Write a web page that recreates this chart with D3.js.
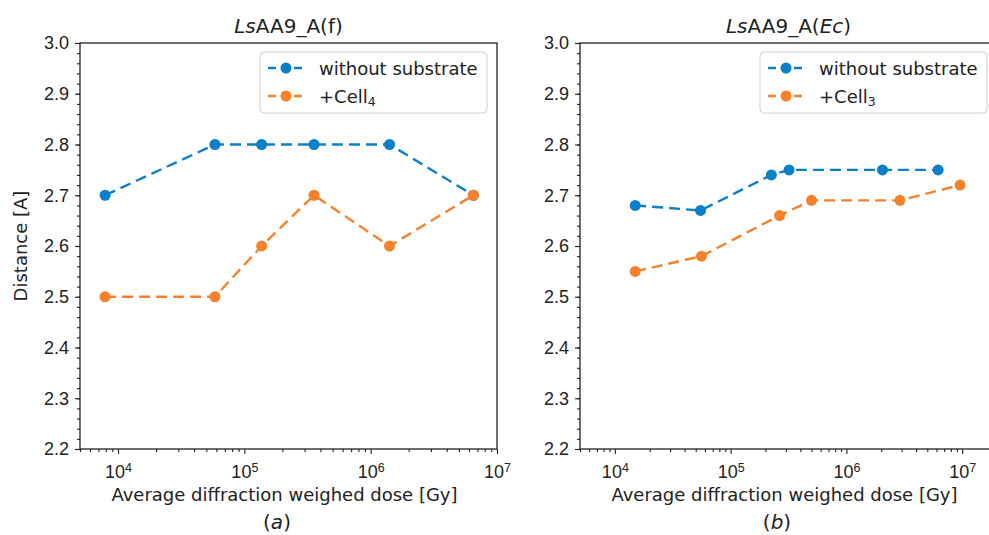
<!DOCTYPE html>
<html>
<head>
<meta charset="utf-8">
<script src="https://cdn.jsdelivr.net/npm/d3@7"></script>
<style>
  body { margin: 0; background: #fff; }
  svg { display: block; font-family: "DejaVu Sans", sans-serif; }
</style>
</head>
<body>
<div id="container"></div>
<script>
// data
const seriesNames = ["without substrate", "+Cell"]
const cellSubs = ["4", "3"]

const leftDose = [7.9e3, 5.85e4, 1.37e5, 3.56e5, 1.41e6, 6.5e6]
const leftBlue = [2.7, 2.8, 2.8, 2.8, 2.8, 2.7]
const leftOrange = [2.5, 2.5, 2.6, 2.7, 2.6, 2.7]

const rightDoseBlue = [1.5e4, 5.5e4, 2.25e5, 3.2e5, 2.05e6, 6.2e6]
const rightBlue = [2.68, 2.67, 2.74, 2.75, 2.75, 2.75]
const rightDoseOrange = [1.5e4, 5.6e4, 2.65e5, 5.0e5, 2.9e6, 9.6e6]
const rightOrange = [2.55, 2.58, 2.66, 2.69, 2.69, 2.72]

const yTicks = [2.2, 2.3, 2.4, 2.5, 2.6, 2.7, 2.8, 2.9, 3.0]
const xTickExps = [4, 5, 6, 7]

const blue = "#0b7fc7"
const orange = "#f5822a"

const width = 989, height = 535

let svg = d3.select("#container").append("svg")
    .attr("width", width)
    .attr("height", height)

const panels = [
  { x0: 80, xDomain: [5e3, 1e7], title: [["Ls", true], ["AA9_A(f)", false]], caption: "a", capX: 277, ylabel: true,
    series: [{ x: leftDose, y: leftBlue, c: blue }, { x: leftDose, y: leftOrange, c: orange }], sub: cellSubs[0] },
  { x0: 580, xDomain: [5e3, 2e7], title: [["Ls", true], ["AA9_A(", false], ["Ec", true], [")", false]], caption: "b", capX: 777, ylabel: false,
    series: [{ x: rightDoseBlue, y: rightBlue, c: blue }, { x: rightDoseOrange, y: rightOrange, c: orange }], sub: cellSubs[1] }
]

const pw = 417, plotTop = 43, plotBottom = 449

panels.forEach(p => {
  let x = d3.scaleLog().domain(p.xDomain).range([p.x0, p.x0 + pw])
  let y = d3.scaleLinear().domain([2.2, 3.0]).range([plotBottom, plotTop])
  let g = svg.append("g")

  // minor x ticks
  let minors = []
  for (let e = 3; e <= 7; e++) for (let m = 2; m <= 9; m++) {
    const v = m * Math.pow(10, e)
    if (v >= p.xDomain[0] && v <= p.xDomain[1]) minors.push(v)
  }
  g.append("g").attr("transform", `translate(0,${plotBottom})`)
    .call(d3.axisBottom(x).tickValues(minors).tickSize(3).tickFormat(""))
  let xa = g.append("g").attr("transform", `translate(0,${plotBottom})`)
    .call(d3.axisBottom(x).tickValues(xTickExps.map(e => Math.pow(10, e)).filter(v => v <= p.xDomain[1]))
      .tickSize(5).tickPadding(6).tickFormat(""))
  xa.selectAll(".tick text").each(function(d) {
    let t = d3.select(this).attr("font-size", 18).attr("fill", "#222").attr("dy", "1em")
    t.append("tspan").text("10")
    t.append("tspan").attr("font-size", 12.5).attr("dy", "-0.5em").text(Math.round(Math.log10(d)))
  })

  // y axis
  g.append("g").attr("transform", `translate(${p.x0},0)`)
    .call(d3.axisLeft(y).tickValues(d3.range(2.2, 3.001, 0.02)).tickSize(3).tickFormat(""))
  g.append("g").attr("transform", `translate(${p.x0},0)`)
    .call(d3.axisLeft(y).tickValues(yTicks).tickSize(5).tickPadding(6).tickFormat(d3.format(".1f")))
    .selectAll("text").attr("font-size", 18).attr("fill", "#222")

  g.selectAll(".domain").remove()
  g.selectAll(".tick line").attr("stroke", "#222").attr("stroke-width", 1.1)

  // frame
  g.append("rect").attr("x", p.x0).attr("y", plotTop).attr("width", pw).attr("height", plotBottom - plotTop)
    .attr("fill", "none").attr("stroke", "#222").attr("stroke-width", 1.3)

  // lines and markers
  let line = d3.line().x(d => x(d[0])).y(d => y(d[1]))
  p.series.forEach(s => {
    const pts = s.x.map((v, i) => [v, s.y[i]])
    g.append("path").datum(pts).attr("d", line)
      .attr("fill", "none").attr("stroke", s.c).attr("stroke-width", 2.4)
      .attr("stroke-dasharray", "11,6")
    g.selectAll(null).data(pts).enter().append("circle")
      .attr("cx", d => x(d[0])).attr("cy", d => y(d[1])).attr("r", 5.5).attr("fill", s.c)
  })

  // title
  let tt = g.append("text").attr("x", p.x0 + pw / 2).attr("y", 33)
    .attr("text-anchor", "middle").attr("font-size", 20).attr("fill", "#222")
  p.title.forEach(([s, it]) => tt.append("tspan").attr("font-style", it ? "italic" : "normal").text(s))

  // x label and caption
  g.append("text").attr("x", p.x0 + pw / 2 - 4).attr("y", 501).attr("text-anchor", "middle")
    .attr("font-size", 18).attr("fill", "#222").text("Average diffraction weighed dose [Gy]")
  let cap = g.append("text").attr("x", p.capX).attr("y", 529).attr("text-anchor", "middle")
    .attr("font-size", 20).attr("fill", "#222")
  cap.append("tspan").text("(")
  cap.append("tspan").attr("font-style", "italic").text(p.caption)
  cap.append("tspan").text(")")

  if (p.ylabel) {
    g.append("text").attr("transform", `translate(27,${(plotTop + plotBottom) / 2}) rotate(-90)`)
      .attr("text-anchor", "middle").attr("font-size", 18).attr("fill", "#222").text("Distance [A]")
  }

  // legend
  const lx = p.x0 + pw - 10 - 227, ly = 52
  let lg = g.append("g").attr("transform", `translate(${lx},${ly})`)
  lg.append("rect").attr("width", 227).attr("height", 61).attr("rx", 4)
    .attr("fill", "white").attr("fill-opacity", 0.8).attr("stroke", "#d0d0d0")
  p.series.forEach((s, i) => {
    const cy = 16 + i * 28
    lg.append("line").attr("x1", 8).attr("x2", 44).attr("y1", cy).attr("y2", cy)
      .attr("stroke", s.c).attr("stroke-width", 2.4).attr("stroke-dasharray", "8,5")
    lg.append("circle").attr("cx", 26).attr("cy", cy).attr("r", 5.5).attr("fill", s.c)
    let t = lg.append("text").attr("x", 59).attr("y", cy + 6.5).attr("font-size", 18).attr("fill", "#222")
    t.append("tspan").text(seriesNames[i])
    if (i === 1) t.append("tspan").attr("font-size", 12.5).attr("dy", "0.3em").text(p.sub)
  })
})
</script>
</body>
</html>
